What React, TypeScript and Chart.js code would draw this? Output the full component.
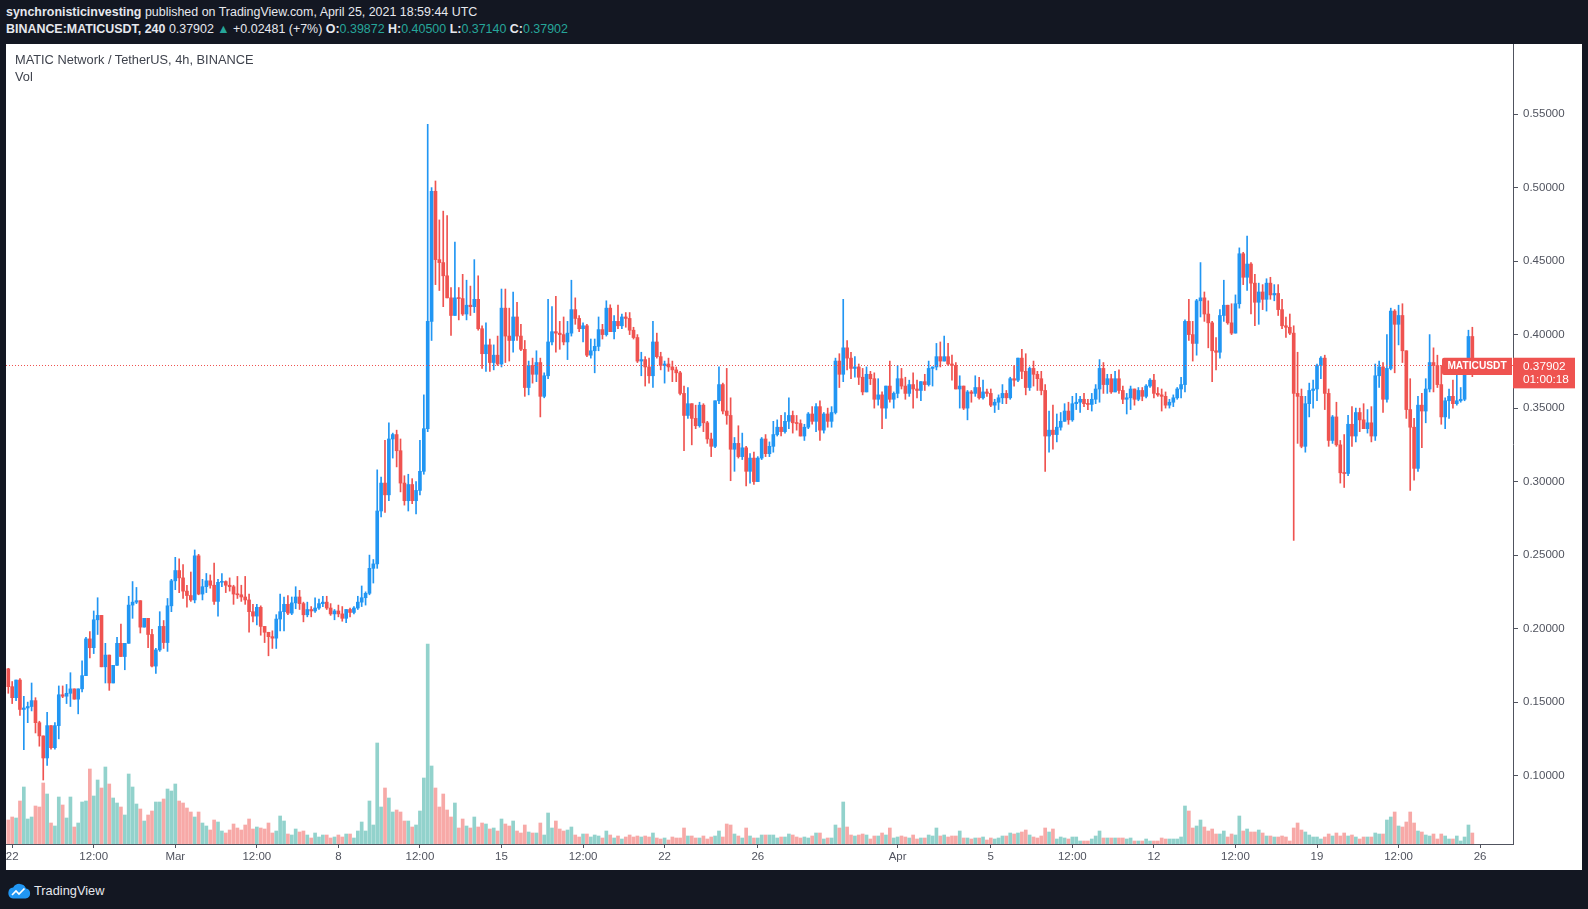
import React, { useEffect, useRef } from "react";
import { Chart, registerables } from "chart.js";

Chart.register(...registerables);

// ---------- DATA ----------
// 4h candles of MATIC/USDT on Binance, first candle opens 2021-02-21 20:00 UTC
const START_UTC = Date.UTC(2021, 1, 21, 20, 0);
const STEP_MS = 4 * 3600 * 1000;

// Prices are given in thousandths of USDT (172.6 -> 0.1726)
const firstOpen = 172.6;

const closes = [
  160.5, 153, 165, 145, 146, 147, 151, 136, 127, 112,
  134, 119, 134, 155, 154, 156, 159, 152, 159, 168,
  193, 187, 206, 209, 174, 182, 163, 175, 190, 181,
  190, 216, 218, 219, 201, 207, 196,
  174.5, 185.5, 201.5, 190.5, 215.5, 232.5, 239.5, 234.5, 225.5, 222.5,
  219.5, 249.5, 223.5, 228.5, 232.5, 229.5, 218.5, 231.5, 232, 229.5,
  228.5, 223.5, 223, 221.5, 219.5, 211.5, 208.5, 214.5, 201.5, 197.5,
  194.5, 193.5, 206.5, 211.5, 216.5, 210.5, 217.5, 221.5, 217,
  209.4, 213, 212, 214, 217, 218, 214, 210, 212, 210,
  207, 213, 211, 214, 218, 221, 224, 241, 244, 280,
  299, 291, 329, 332, 321, 299, 287, 298, 287, 294,
  307, 336, 409, 497.5, 451, 449, 440, 425,
  413, 425, 424.5, 414, 420, 419, 424, 404, 387, 393,
  381, 386, 380, 418, 399, 396, 412, 399, 390, 364,
  379, 373, 381, 358, 372, 395, 402, 401, 400, 395,
  401, 417, 411, 404, 406, 386, 389, 392,
  403.4, 400, 418, 402, 409, 406, 412, 411, 403, 398,
  382, 383, 378, 372, 395, 385, 379, 380, 378, 376,
  374, 360, 345, 353, 343, 338, 352, 340, 329, 324,
  355, 366, 348, 345, 322, 326, 317, 323,
  307, 316, 300, 316, 329, 319, 324, 332, 337, 334,
  341, 345, 340, 339.5, 331, 337, 346, 341, 351, 335,
  346, 341, 347, 382, 373, 391, 384, 377, 378, 371,
  361, 373, 370, 356, 359, 350, 365, 356,
  360, 370, 365, 360, 366, 363, 362, 368, 366, 377,
  378, 385, 382, 385, 380, 379, 363, 365, 350, 361,
  360, 364, 357, 361, 360, 352, 354, 357, 360, 357,
  370, 369, 384, 375, 364, 377, 373, 370,
  362, 331, 335, 332, 337, 341, 348, 342, 353, 354,
  356, 353, 352.5, 356, 363, 377, 366, 370, 361, 370,
  362, 356, 357, 363, 356, 362, 358, 365, 369, 360,
  359, 358, 352, 354, 357, 363, 366, 409,
  400, 394, 423, 425, 414, 408, 389, 388, 413, 420,
  408, 401, 421, 455, 439, 448, 435, 422, 429, 424,
  435, 427, 428, 417, 406, 405, 401, 360, 358, 324,
  353, 362, 363, 379, 384, 360, 328, 344, 325,
  306, 305.5, 339, 331, 347, 342, 336, 340, 331, 372,
  378, 356, 377, 416, 407, 413, 389, 349, 337, 309,
  352, 348, 363, 381, 379, 366, 344, 355, 358, 353,
  355, 356, 375, 398.72, 379.02,
];

const highs = [
  173, 164, 165, 166, 154, 150, 163, 153, 137, 127,
  143, 134, 136, 161, 161, 162, 170, 159, 159, 178,
  194, 198, 212, 221, 209, 190, 182, 175, 194, 203,
  190, 222, 232, 228, 219, 207, 207,
  199.5, 186.5, 211.5, 205.5, 220.5, 233.5, 248.5, 247.5, 243.5, 229.5,
  238.5, 253.5, 250.5, 233.5, 237.5, 236.5, 244.5, 233.5, 237.5, 232.5,
  234.5, 229.5, 235.5, 229.5, 235.5, 223.5, 216.5, 216.5, 215.5, 201.5,
  197.5, 198.5, 209.5, 223.5, 221.5, 222.5, 221.5, 228.5, 226,
  218, 218, 215, 221, 220, 222, 222, 217, 213, 216,
  215, 213, 214, 215, 222, 229, 225, 250, 247, 308,
  303, 328, 340, 333, 335, 329, 304, 305, 302, 300,
  328, 359, 543, 500, 504.5, 478, 484, 481,
  432, 463, 432, 441, 437, 433, 451, 440, 406, 408,
  397, 393, 399, 431, 431, 418, 429, 422, 407, 396,
  382, 384, 389, 384, 374, 424, 419, 426, 409, 412,
  409, 437, 425, 413, 408, 407, 397, 397,
  412, 407, 423, 420.3, 413, 420, 414, 415, 415, 405,
  400, 388, 385, 384, 409, 401, 388, 382, 384, 382,
  378, 375, 365, 364, 353, 352, 354, 353, 341, 333,
  355, 378, 367, 377, 357, 330, 338, 333,
  324, 319, 320, 317, 330, 332, 327, 341, 342, 345,
  347, 357, 348, 345, 342, 339, 347, 351, 353, 355,
  347, 350, 351, 384, 387, 424, 396, 388, 385, 380,
  377, 378, 375, 374, 370, 361, 365, 382,
  361, 379, 377, 371, 369, 374, 369, 368, 373, 382,
  378, 394, 395, 399, 394, 386, 381, 372, 365, 362,
  362, 372, 371, 369, 363, 363, 356, 359, 366, 362,
  371, 379, 384, 390, 387, 378, 382, 375,
  375, 366, 348, 352, 346, 347, 353, 354, 358, 360,
  358, 360, 356, 360, 366, 383, 381, 373, 373, 375,
  376, 365, 360, 365, 363, 364, 364, 366, 370, 373,
  364, 363, 361, 356, 359, 364, 371, 410,
  424, 409, 424, 449, 429, 423, 409, 398, 417, 437,
  420, 421, 427, 459, 456, 467, 449, 441, 435, 434,
  438, 439, 434, 434, 424, 412, 414, 406, 388, 363,
  358, 367, 369, 380, 385, 386, 363, 345, 354,
  328, 332, 345, 351, 350, 350, 353, 349, 351, 380,
  382, 381, 400, 418, 417, 420, 421, 389, 370, 343,
  358, 360, 370, 400, 391, 386, 379, 357, 363, 369,
  374, 364, 376, 403, 405,
];

const lows = [
  156, 149, 151, 141, 117.6, 136, 144, 129, 120, 97,
  107, 118, 118, 125, 153, 149, 147, 152, 142, 157,
  168, 180, 183, 196, 174, 163, 158, 163, 175, 181,
  172, 190, 207, 217, 197, 201, 187,
  174, 169.5, 184.5, 186.5, 184.5, 211.5, 226.5, 224.5, 220.5, 214.5,
  218.5, 217.5, 223, 219.5, 224.5, 227.5, 216.5, 208.5, 228.5, 224.5,
  225.5, 216.5, 220.5, 218.5, 216.5, 197.5, 204.5, 202.5, 195.5, 190.5,
  181.5, 186.5, 186.5, 198.5, 198.5, 209.5, 209.5, 213.5, 213,
  204.6, 208, 208, 211, 213, 215, 213, 209, 206, 208,
  205, 204, 208, 210, 213, 215, 216, 223, 231, 241,
  276, 279, 287, 316, 310, 293, 284, 280, 285, 278,
  291, 305, 334, 396, 434, 430, 419, 425,
  399.5, 413, 410, 413, 410, 413, 415, 403, 377, 375,
  375, 376, 379, 378, 381, 382, 388, 396, 389, 358,
  359, 367, 368, 344, 357, 370, 393, 388, 390, 393,
  383, 399, 407, 402, 395, 385, 384, 374,
  389, 397, 399, 402, 397, 404, 404, 405, 400, 397,
  381, 372, 365, 367, 364, 384, 376, 367, 375, 368,
  368, 359, 321, 343, 325, 336, 337, 334, 326, 317,
  323, 353, 346, 339, 300.6, 307, 316, 315,
  297, 299, 298, 300, 315, 317, 317, 320, 331, 331,
  333, 336, 333, 335, 331, 328, 336, 339, 334, 328,
  333, 337, 337, 346, 364, 368, 376, 370, 371, 366,
  359, 361, 366, 350, 352, 336, 343, 354,
  350, 357, 363, 356, 358, 350, 357, 355, 362, 365,
  365, 376, 378, 382, 379, 369, 363, 350, 349, 342,
  354, 358, 356, 356, 358, 351, 347, 349, 353, 353,
  356, 365, 368, 370, 359, 362, 365, 362,
  359, 307, 320, 322, 327, 335, 341, 339, 341, 349,
  347, 351, 349, 348, 353, 354, 360, 360, 360, 361,
  360, 353, 346, 349, 352, 355, 355, 357, 364, 357,
  358, 348, 350, 350, 351, 356, 357, 361,
  396, 382, 386, 412, 409, 391, 368, 376, 384, 409,
  407, 400, 401, 418, 434, 430, 414, 406, 407, 417,
  416, 424, 423, 413, 404, 398, 400, 260, 326, 323,
  320, 344, 350, 355, 370, 349, 324, 326, 324,
  299, 296, 304, 324, 327, 334, 336, 333, 327, 328,
  364, 347, 354, 376, 374, 393, 381, 343, 294, 301,
  307, 323, 340, 361, 361, 364, 339, 336, 343, 350,
  352, 354, 355, 375, 371.4,
];

// Volume per candle (millions of MATIC, approximate)
const volumes = [
  24, 27, 26, 43, 57, 25, 27, 38, 37, 61,
  50, 21, 18, 47, 39, 26, 47, 17, 21, 42,
  43, 75, 48, 64, 56, 77, 60, 46, 41, 37,
  29, 70, 57, 40, 35, 23, 29,
  33, 42, 42, 45, 55, 53, 60, 43, 41, 36,
  32, 27, 32, 21, 18, 14, 24, 22, 13, 11,
  14, 20, 16, 14, 19, 25, 15, 17, 16, 15,
  21, 11, 13, 28, 23, 10, 9, 15, 12,
  13, 9, 6, 11, 7, 9, 9, 6, 7, 9,
  7, 10, 10, 6, 13, 22, 13, 43, 19, 101,
  37, 56, 46, 32, 34, 32, 23, 23, 17, 19,
  33, 66, 200, 78, 56, 37, 50, 34,
  27, 41, 16, 25, 18, 16, 27, 17, 21, 20,
  15, 16, 13, 25, 20, 18, 23, 13, 11, 19,
  12, 11, 11, 21, 9, 31, 16, 23, 15, 13,
  14, 17, 9, 7, 10, 10, 7, 9,
  8, 6, 13, 9, 6, 8, 5, 7, 9, 7,
  8, 7, 8, 7, 11, 6, 5, 6, 4, 7,
  6, 6, 16, 8, 8, 6, 6, 8, 5, 7,
  8, 13, 7, 20, 19, 10, 8, 6,
  16, 8, 6, 6, 9, 9, 9, 9, 6, 7,
  7, 10, 9, 7, 6, 7, 6, 8, 11, 11,
  5, 6, 6, 19, 16, 42, 17, 9, 8, 9,
  10, 9, 5, 8, 8, 11, 9, 16,
  6, 7, 8, 7, 6, 9, 5, 6, 6, 9,
  8, 16, 8, 9, 7, 8, 8, 13, 6, 6,
  5, 6, 6, 7, 4, 6, 5, 6, 8, 8,
  11, 10, 11, 12, 14, 9, 7, 6,
  8, 16, 12, 15, 5, 7, 6, 5, 7, 7,
  3, 3, 3, 5, 8, 13, 6, 6, 6, 6,
  6, 6, 5, 6, 3, 3, 3, 5, 3, 3,
  3, 6, 5, 5, 5, 5, 7, 38,
  33, 16, 18, 24, 17, 13, 15, 10, 10, 13,
  7, 10, 9, 28, 13, 15, 12, 12, 14, 11,
  8, 8, 7, 7, 8, 7, 3, 16, 21, 14,
  12, 9, 7, 7, 5, 7, 10, 8, 11,
  8, 11, 8, 9, 7, 5, 7, 7, 7, 11,
  10, 10, 24, 27, 32, 18, 17, 22, 32, 21,
  13, 12, 9, 8, 10, 5, 10, 8, 5, 5,
  8, 3, 7, 19, 11,
];

// Time-axis ticks (UTC) and their labels
const tickDates = [
  "2021-02-22T00:00Z", "2021-02-25T12:00Z", "2021-03-01T00:00Z", "2021-03-04T12:00Z",
  "2021-03-08T00:00Z", "2021-03-11T12:00Z", "2021-03-15T00:00Z", "2021-03-18T12:00Z",
  "2021-03-22T00:00Z", "2021-03-26T00:00Z", "2021-04-01T00:00Z", "2021-04-05T00:00Z",
  "2021-04-08T12:00Z", "2021-04-12T00:00Z", "2021-04-15T12:00Z", "2021-04-19T00:00Z",
  "2021-04-22T12:00Z", "2021-04-26T00:00Z",
];
const tickLabels = [
  "22", "12:00", "Mar", "12:00", "8", "12:00", "15", "12:00", "22", "26",
  "Apr", "5", "12:00", "12", "12:00", "19", "12:00", "26",
];

// Price-axis ticks
const priceTicks = [0.1, 0.15, 0.2, 0.25, 0.3, 0.35, 0.4, 0.45, 0.5, 0.55];

// Header values
const publisher = "synchronisticinvesting";
const publishedAt = "April 25, 2021 18:59:44 UTC";
const symbolFull = "BINANCE:MATICUSDT, 240";
const symbolShort = "MATICUSDT";
const lastClose = 0.37902;
const lastChange = "+0.02481 (+7%)";
const ohlcLabels = ["O", "H", "L", "C"];
const ohlcValues = ["0.39872", "0.40500", "0.37140", "0.37902"];
const countdown = "01:00:18";
const legendTitle = "MATIC Network / TetherUS, 4h, BINANCE";

// ---------- STYLE ----------
const FONT = "'Liberation Sans', Arial, Helvetica, sans-serif";
const UP = "#2196f3";
const DOWN = "#ef5350";
const VOL_UP = "rgba(38,166,154,0.5)";
const VOL_DOWN = "rgba(239,83,80,0.5)";
const AXIS_LINE = "#50535e";
const AXIS_TEXT = "#50535e";
const TEAL = "#26a69a";
const HEADER_TEXT = "#e6e8ee";

const CANVAS_W = 1576;
const CANVAS_H = 826;
const PRICE_AXIS_W = 69;
const TIME_AXIS_H = 26;

export default function App() {
  const canvasRef = useRef<HTMLCanvasElement | null>(null);

  useEffect(() => {
    document.body.style.margin = "0";
    document.body.style.background = "#131722";
    const canvas = canvasRef.current;
    if (!canvas) return;

    const times = closes.map((_, i) => START_UTC + i * STEP_MS);
    const opens = closes.map((_, i) => (i === 0 ? firstOpen : closes[i - 1]));
    const isUp = closes.map((c, i) => c >= opens[i]);
    const px = (v: number) => v / 1000;

    const bodyData = times.map((t, i) => ({ x: t, y: [px(opens[i]), px(closes[i])] }));
    const wickData = times.map((t, i) => ({ x: t, y: [px(lows[i]), px(highs[i])] }));
    const volData = times.map((t, i) => ({ x: t, y: volumes[i] }));
    const tickTimes = tickDates.map((d) => Date.parse(d));

    const xMin = START_UTC - 0.592 * STEP_MS;
    const xMax = START_UTC + 387.47 * STEP_MS;

    const priceLinePlugin = {
      id: "priceLine",
      afterDatasetsDraw(chart: any) {
        const { ctx, chartArea, scales } = chart;
        const y = Math.round(scales.y.getPixelForValue(lastClose)) + 0.5;
        ctx.save();
        ctx.strokeStyle = DOWN;
        ctx.lineWidth = 1;
        ctx.setLineDash([1, 2]);
        ctx.beginPath();
        ctx.moveTo(chartArea.left, y);
        ctx.lineTo(chartArea.right, y);
        ctx.stroke();
        ctx.restore();
      },
      afterDraw(chart: any) {
        const { ctx, scales } = chart;
        const yAxis = scales.y;
        const y = yAxis.getPixelForValue(lastClose);
        const top = y - 7.7;
        const axisX = yAxis.left;
        ctx.save();
        ctx.fillStyle = DOWN;
        // price tag on the axis
        ctx.fillRect(axisX, top, 62, 30.6);
        // symbol tag left of the axis
        ctx.beginPath();
        if ((ctx as any).roundRect) {
          (ctx as any).roundRect(axisX - 71, top, 70, 17.3, [2, 0, 0, 2]);
        } else {
          ctx.rect(axisX - 71, top, 70, 17.3);
        }
        ctx.fill();
        ctx.fillStyle = "#ffffff";
        ctx.textBaseline = "middle";
        ctx.font = `bold 10.2px ${FONT}`;
        ctx.textAlign = "center";
        ctx.fillText(symbolShort, axisX - 36, y + 1.1);
        ctx.font = `11.8px ${FONT}`;
        ctx.textAlign = "left";
        ctx.fillText(lastClose.toFixed(5), axisX + 10, y + 1.3);
        ctx.fillText(countdown, axisX + 10, y + 14.6);
        ctx.restore();
      },
    };

    const chart = new Chart(canvas, {
      type: "bar",
      data: {
        datasets: [
          {
            label: "body",
            data: bodyData as any,
            backgroundColor: isUp.map((u) => (u ? UP : DOWN)),
            borderWidth: 0,
            barThickness: 3,
            minBarLength: 1,
            grouped: false,
            yAxisID: "y",
            order: 1,
          } as any,
          {
            label: "wick",
            data: wickData as any,
            backgroundColor: isUp.map((u) => (u ? UP : DOWN)),
            borderWidth: 0,
            barThickness: 1,
            grouped: false,
            yAxisID: "y",
            order: 2,
          } as any,
          {
            label: "Vol",
            data: volData as any,
            backgroundColor: isUp.map((u) => (u ? VOL_UP : VOL_DOWN)),
            borderWidth: 0,
            barThickness: 3,
            grouped: false,
            yAxisID: "v",
            order: 3,
          } as any,
        ],
      },
      options: {
        animation: false,
        responsive: false,
        maintainAspectRatio: false,
        events: [],
        layout: { padding: 0, autoPadding: false } as any,
        plugins: {
          legend: { display: false },
          tooltip: { enabled: false },
        },
        scales: {
          x: {
            type: "linear",
            position: "bottom",
            min: xMin,
            max: xMax,
            offset: false,
            afterBuildTicks: (s: any) => {
              s.ticks = tickTimes.map((v) => ({ value: v }));
            },
            afterFit: (s: any) => {
              s.height = TIME_AXIS_H;
              s.paddingLeft = 0;
              s.paddingRight = 0;
            },
            ticks: {
              autoSkip: false,
              maxRotation: 0,
              minRotation: 0,
              padding: 2,
              color: AXIS_TEXT,
              font: { family: FONT, size: 11.5 },
              callback: (_v: any, i: number) => tickLabels[i],
            },
            grid: {
              drawOnChartArea: false,
              drawTicks: true,
              tickLength: 4,
              tickColor: AXIS_LINE,
              offset: false,
            },
            border: { display: true, color: AXIS_LINE, width: 1 },
          } as any,
          y: {
            type: "linear",
            position: "right",
            min: 0.05347,
            max: 0.59769,
            afterBuildTicks: (s: any) => {
              s.ticks = priceTicks.map((v) => ({ value: v }));
            },
            afterFit: (s: any) => {
              s.width = PRICE_AXIS_W;
              s.paddingTop = 0;
              s.paddingBottom = 0;
            },
            ticks: {
              padding: 5,
              color: AXIS_TEXT,
              font: { family: FONT, size: 11.5 },
              callback: (v: any) => Number(v).toFixed(5),
            },
            grid: {
              drawOnChartArea: false,
              drawTicks: true,
              tickLength: 5,
              tickColor: AXIS_LINE,
            },
            border: { display: true, color: AXIS_LINE, width: 1 },
          } as any,
          v: {
            type: "linear",
            display: false,
            min: 0,
            max: 800,
          } as any,
        },
      },
      plugins: [priceLinePlugin],
    });

    return () => chart.destroy();
  }, []);

  const teal = { color: TEAL };

  return (
    <div
      style={{
        position: "relative",
        width: 1588,
        height: 909,
        background: "#131722",
        overflow: "hidden",
        fontFamily: FONT,
      }}
    >
      <div
        style={{
          position: "absolute",
          left: 6,
          top: 44,
          width: CANVAS_W,
          height: CANVAS_H,
          background: "#ffffff",
        }}
      >
        <canvas
          ref={canvasRef}
          width={CANVAS_W}
          height={CANVAS_H}
          style={{ display: "block", width: CANVAS_W, height: CANVAS_H }}
        />
      </div>

      {/* header */}
      <div
        style={{
          position: "absolute",
          left: 6,
          top: 4.2,
          color: HEADER_TEXT,
          fontSize: 12.45,
          lineHeight: "16.8px",
          whiteSpace: "nowrap",
        }}
      >
        <div>
          <b>{publisher}</b> published on TradingView.com, {publishedAt}
        </div>
        <div>
          <b>{symbolFull}</b> {lastClose.toFixed(5)} <span style={teal}>▲</span> {lastChange}{" "}
          {ohlcLabels.map((l, i) => (
            <span key={l}>
              <b>{l}:</b>
              <span style={teal}>{ohlcValues[i]}</span>
              {i < ohlcLabels.length - 1 ? " " : ""}
            </span>
          ))}
        </div>
      </div>

      {/* chart legend */}
      <div
        style={{
          position: "absolute",
          left: 15,
          top: 52.4,
          color: "#3f434d",
          fontSize: 12.8,
          lineHeight: "16.8px",
          whiteSpace: "nowrap",
        }}
      >
        <div>{legendTitle}</div>
        <div>Vol</div>
      </div>

      {/* footer logo */}
      <div
        style={{
          position: "absolute",
          left: 7,
          top: 881,
          height: 18,
          display: "flex",
          alignItems: "center",
          color: "#e6e8ee",
          fontSize: 12.8,
          whiteSpace: "nowrap",
        }}
      >
        <svg width="24" height="17" viewBox="0 0 24 17" style={{ marginRight: 3 }}>
          <path
            d="M6 16.5 H18.5 A5 5 0 0 0 19 6.6 A7 7 0 0 0 6.2 5.6 A5.5 5.5 0 0 0 6 16.5 Z"
            fill="#2196f3"
          />
          <path d="M5 13 L9 9 L12 12 L17.5 6.5" stroke="#ffffff" strokeWidth="1.7" fill="none" />
        </svg>
        <span>TradingView</span>
      </div>
    </div>
  );
}
